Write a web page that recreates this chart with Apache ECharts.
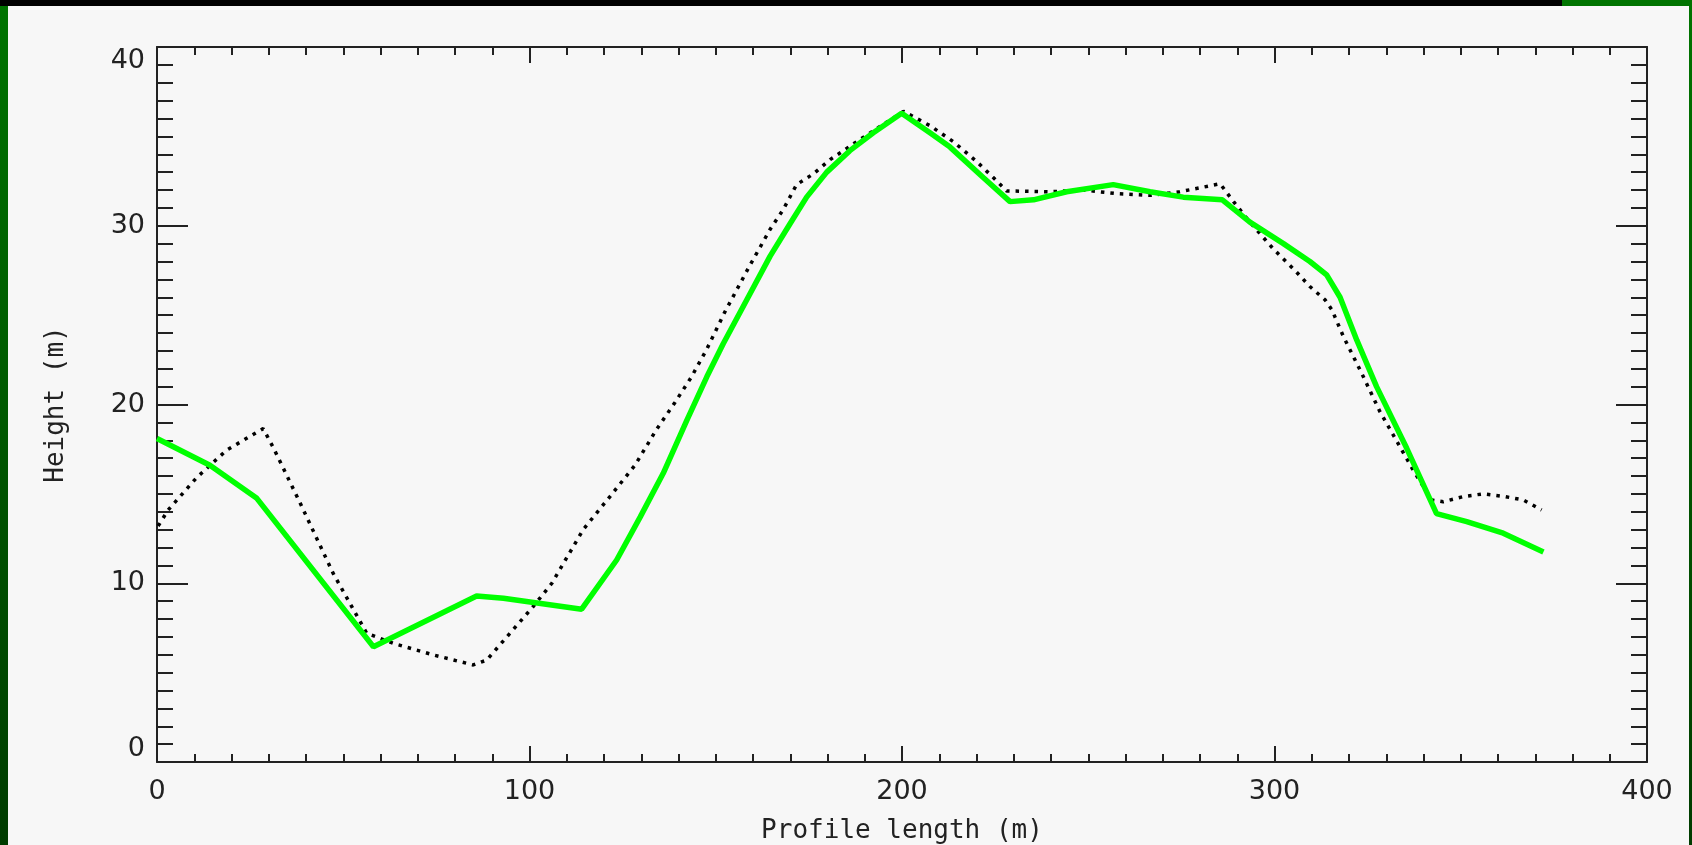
<!DOCTYPE html>
<html>
<head>
<meta charset="utf-8">
<script src="https://cdn.jsdelivr.net/npm/echarts@6/dist/echarts.min.js"></script>
<style>
  html, body { margin: 0; padding: 0; }
  body {
    width: 1692px; height: 845px; overflow: hidden; position: relative;
    background: linear-gradient(#007400, #003c00);
  }
  #topbar { position: absolute; left: 0; top: 0; width: 1562px; height: 6px; background: #000; }
  #panel { position: absolute; left: 8px; top: 6px; width: 1681px; height: 839px; background: #f7f7f7; }
  #chart { position: absolute; left: 0; top: 0; width: 1692px; height: 845px; }
</style>
</head>
<body>
<div id="topbar"></div>
<div id="panel"></div>
<div id="chart"></div>
<script>
  // profile 1 (green, solid)
  const greenDist = [0, 14.2, 26.8, 58.1, 85.8, 93, 114, 123.4, 129.7, 135.9, 142.2, 147.6, 152, 158.3,
    164.6, 169.9, 174.4, 179.8, 186, 192.3, 199.9, 207.5, 212.9, 221.8, 229, 235.3, 244.2, 256.7,
    266.6, 275.5, 286, 293.4, 302.4, 309.5, 314, 317.6, 322.1, 327.4, 335.5, 343.5, 351.6, 361.4, 372.2];
  const greenHeight = [18.1, 16.6, 14.75, 6.45, 9.29, 9.16, 8.55, 11.3, 13.7, 16.15, 19.1, 21.55, 23.4, 25.85,
    28.3, 30.1, 31.6, 33.0, 34.2, 35.2, 36.3, 35.2, 34.4, 32.7, 31.35, 31.45, 31.9, 32.3,
    31.9, 31.6, 31.45, 30.2, 29.0, 28.0, 27.25, 26.0, 23.6, 21.0, 17.55, 13.9, 13.45, 12.8, 11.75];

  // profile 2 (black, dotted)
  const dotDist = [0.3, 3, 10.6, 18.7, 28.5, 31.2, 38.4, 47.3, 56.3, 63.4, 74.2, 84.9, 88.5, 101, 106,
    114.4, 121.6, 128.3, 134.1, 139, 143.5, 147.6, 152.5, 159.2, 164.6, 168.1, 171.7, 176.2, 180.7,
    187.8, 200.4, 207.5, 213.8, 220, 224.5, 228.1, 239.7, 248.7, 257.6, 266.6, 274.6, 285.4, 289,
    293.4, 299.7, 305.5, 309.5, 313.6, 315.4, 318.5, 323.4, 328.3, 334.6, 337.3, 342.2, 345.3,
    350.7, 356, 361.8, 366.8, 371.7];
  const dotHeight = [13.2, 14.1, 15.9, 17.45, 18.65, 17.6, 14.5, 10.55, 7.2, 6.64, 5.99, 5.43, 5.7, 8.7, 10.0,
    13.0, 14.85, 16.6, 18.6, 20.1, 21.55, 23.1, 25.2, 27.8, 29.8, 30.9, 32.3, 32.9, 33.7,
    34.7, 36.4, 35.6, 34.7, 33.6, 32.7, 31.95, 31.9, 32.0, 31.8, 31.7, 31.9, 32.35, 31.35,
    30.2, 28.7, 27.5, 26.6, 25.85, 25.3, 23.8, 21.75, 19.6, 17.3, 16.3, 14.66, 14.56,
    14.85, 15.0, 14.85, 14.66, 14.1];

  const xTicks = [0, 100, 200, 300, 400];
  const yTicks = [0, 10, 20, 30, 40];

  const zip = (xs, ys) => xs.map((x, i) => [x, ys[i]]);

  const INK = '#222';
  const lineSt = { color: INK, width: 2 };

  function xAxisOpt(pos, labels) {
    return {
      type: 'value', position: pos, min: xTicks[0], max: xTicks[xTicks.length - 1], interval: 100,
      axisLine: { show: true, onZero: false, lineStyle: lineSt },
      axisTick: { show: true, inside: true, length: 16, lineStyle: lineSt },
      minorTick: { show: true, splitNumber: 10, length: 8, lineStyle: lineSt },
      splitLine: { show: false },
      axisLabel: { show: labels, margin: 16, color: INK, fontFamily: 'DejaVu Sans', fontSize: 27 },
      name: labels ? 'Profile length (m)' : '',
      nameLocation: 'middle', nameGap: 56,
      nameTextStyle: { color: INK, fontFamily: 'DejaVu Sans Mono', fontSize: 26 }
    };
  }

  function yAxisOpt(pos, labels) {
    return {
      type: 'value', position: pos, min: yTicks[0], max: yTicks[yTicks.length - 1], interval: 10,
      axisLine: { show: true, onZero: false, lineStyle: lineSt },
      axisTick: { show: true, inside: true, length: 31, lineStyle: lineSt },
      minorTick: { show: true, splitNumber: 10, length: 16, lineStyle: lineSt },
      splitLine: { show: false },
      axisLabel: {
        show: labels, margin: 12, color: INK, fontFamily: 'DejaVu Sans', fontSize: 27,
        verticalAlignMinLabel: 'bottom', verticalAlignMaxLabel: 'top'
      },
      name: labels ? 'Height (m)' : '',
      nameLocation: 'middle', nameGap: 88, nameRotate: 90,
      nameTextStyle: { color: INK, fontFamily: 'DejaVu Sans Mono', fontSize: 26 }
    };
  }

  const chart = echarts.init(document.getElementById('chart'), null, { renderer: 'canvas' });
  chart.setOption({
    animation: false,
    backgroundColor: 'transparent',
    grid: { left: 157, top: 47, width: 1490, height: 715, containLabel: false, outerBoundsMode: 'none' },
    xAxis: [xAxisOpt('bottom', true), xAxisOpt('top', false)],
    yAxis: [yAxisOpt('left', true), yAxisOpt('right', false)],
    series: [
      {
        type: 'line', name: 'dotted', data: zip(dotDist, dotHeight),
        symbol: 'none', z: 2,
        lineStyle: { color: '#000', width: 3.5, type: [3.5, 6], cap: 'butt' }
      },
      {
        type: 'line', name: 'green', data: zip(greenDist, greenHeight),
        symbol: 'none', z: 3,
        lineStyle: { color: '#00ff00', width: 5.5 }
      }
    ]
  });
</script>
</body>
</html>
